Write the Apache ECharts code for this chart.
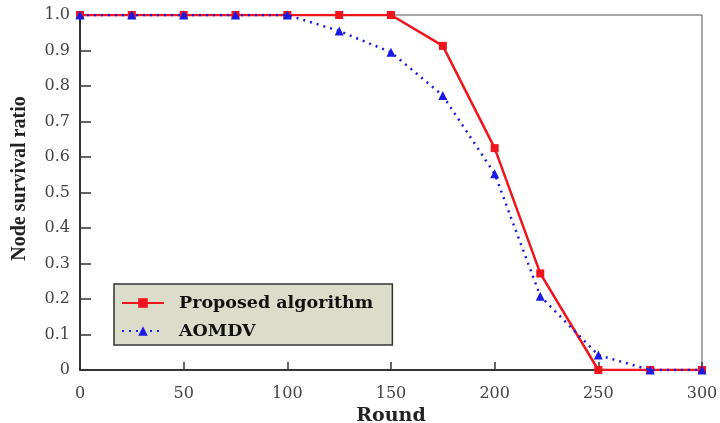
<!DOCTYPE html>
<html>
<head>
<meta charset="utf-8">
<script src="https://cdn.jsdelivr.net/npm/echarts@6/dist/echarts.min.js"></script>
<style>
  html, body { margin: 0; padding: 0; background: #fff; }
  #chart { width: 720px; height: 423px; }
</style>
</head>
<body>
<div id="chart"></div>
<script>
const rounds = [0, 25, 50, 75, 100, 125, 150, 175, 200, 222, 250, 275, 300]
const proposed = [1, 1, 1, 1, 1, 1, 1, 0.913, 0.625, 0.272, 0, 0, 0]
const aomdv = [1, 1, 1, 1, 1, 0.955, 0.895, 0.773, 0.553, 0.208, 0.042, 0, 0]

const wideSerif = '"DejaVu Serif", "Liberation Serif", serif'
const serif = '"Liberation Serif", "DejaVu Serif", serif'
const pairs = (ys) => rounds.map((x, i) => [x, ys[i]])

const chart = echarts.init(document.getElementById('chart'))
chart.setOption({
  animation: false,
  grid: {
    left: 80, right: 18, top: 15, bottom: 53,
    outerBoundsMode: 'none',
    containLabel: false,
    show: true, borderColor: '#555', borderWidth: 1
  },
  legend: {
    orient: 'vertical',
    left: 114, top: 284,
    padding: [9, 19, 4, 7],
    itemGap: 8,
    itemWidth: 42,
    itemHeight: 12,
    backgroundColor: '#dcdccb',
    borderColor: '#333',
    borderWidth: 1.5,
    textStyle: {
      fontFamily: wideSerif, fontWeight: 'bold', fontSize: 17.5, color: '#111',
      lineHeight: 20, padding: [0, 0, 0, 10]
    },
    data: ['Proposed algorithm', 'AOMDV']
  },
  xAxis: {
    type: 'value',
    min: 0, max: 300, interval: 50,
    name: 'Round',
    nameLocation: 'middle',
    nameGap: 32,
    nameTextStyle: { fontFamily: wideSerif, fontWeight: 'bold', fontSize: 19, color: '#222' },
    axisLine: { lineStyle: { color: '#333', width: 2 } },
    axisTick: { inside: true, length: 8, lineStyle: { color: '#333', width: 1.5 } },
    axisLabel: { fontFamily: wideSerif, fontSize: 16, color: '#444', margin: 16 },
    splitLine: { show: false }
  },
  yAxis: {
    type: 'value',
    min: 0, max: 1, interval: 0.1,
    name: 'Node survival ratio',
    nameLocation: 'middle',
    nameGap: 50,
    nameTextStyle: {
      fontFamily: serif, fontWeight: 'bold', fontSize: 20, color: '#222',
      padding: [0, 0, 0, 28]
    },
    axisLine: { lineStyle: { color: '#333', width: 2 } },
    axisTick: { inside: true, length: 11, lineStyle: { color: '#333', width: 1.5 } },
    axisLabel: {
      fontFamily: wideSerif, fontSize: 16, color: '#444', margin: 10,
      formatter: (v) => (v === 0 ? '0' : v.toFixed(1))
    },
    splitLine: { show: false }
  },
  series: [
    {
      name: 'Proposed algorithm',
      type: 'line',
      data: pairs(proposed),
      symbol: 'rect',
      symbolSize: 8,
      z: 2,
      itemStyle: { color: '#f0141c' },
      lineStyle: { color: '#f0141c', width: 2.5 }
    },
    {
      name: 'AOMDV',
      type: 'line',
      data: pairs(aomdv),
      symbol: 'triangle',
      symbolSize: 9,
      z: 3,
      itemStyle: { color: '#1a1ae6' },
      lineStyle: { color: '#1a1ae6', width: 2.5, type: [2, 5] }
    }
  ]
})
</script>
</body>
</html>
